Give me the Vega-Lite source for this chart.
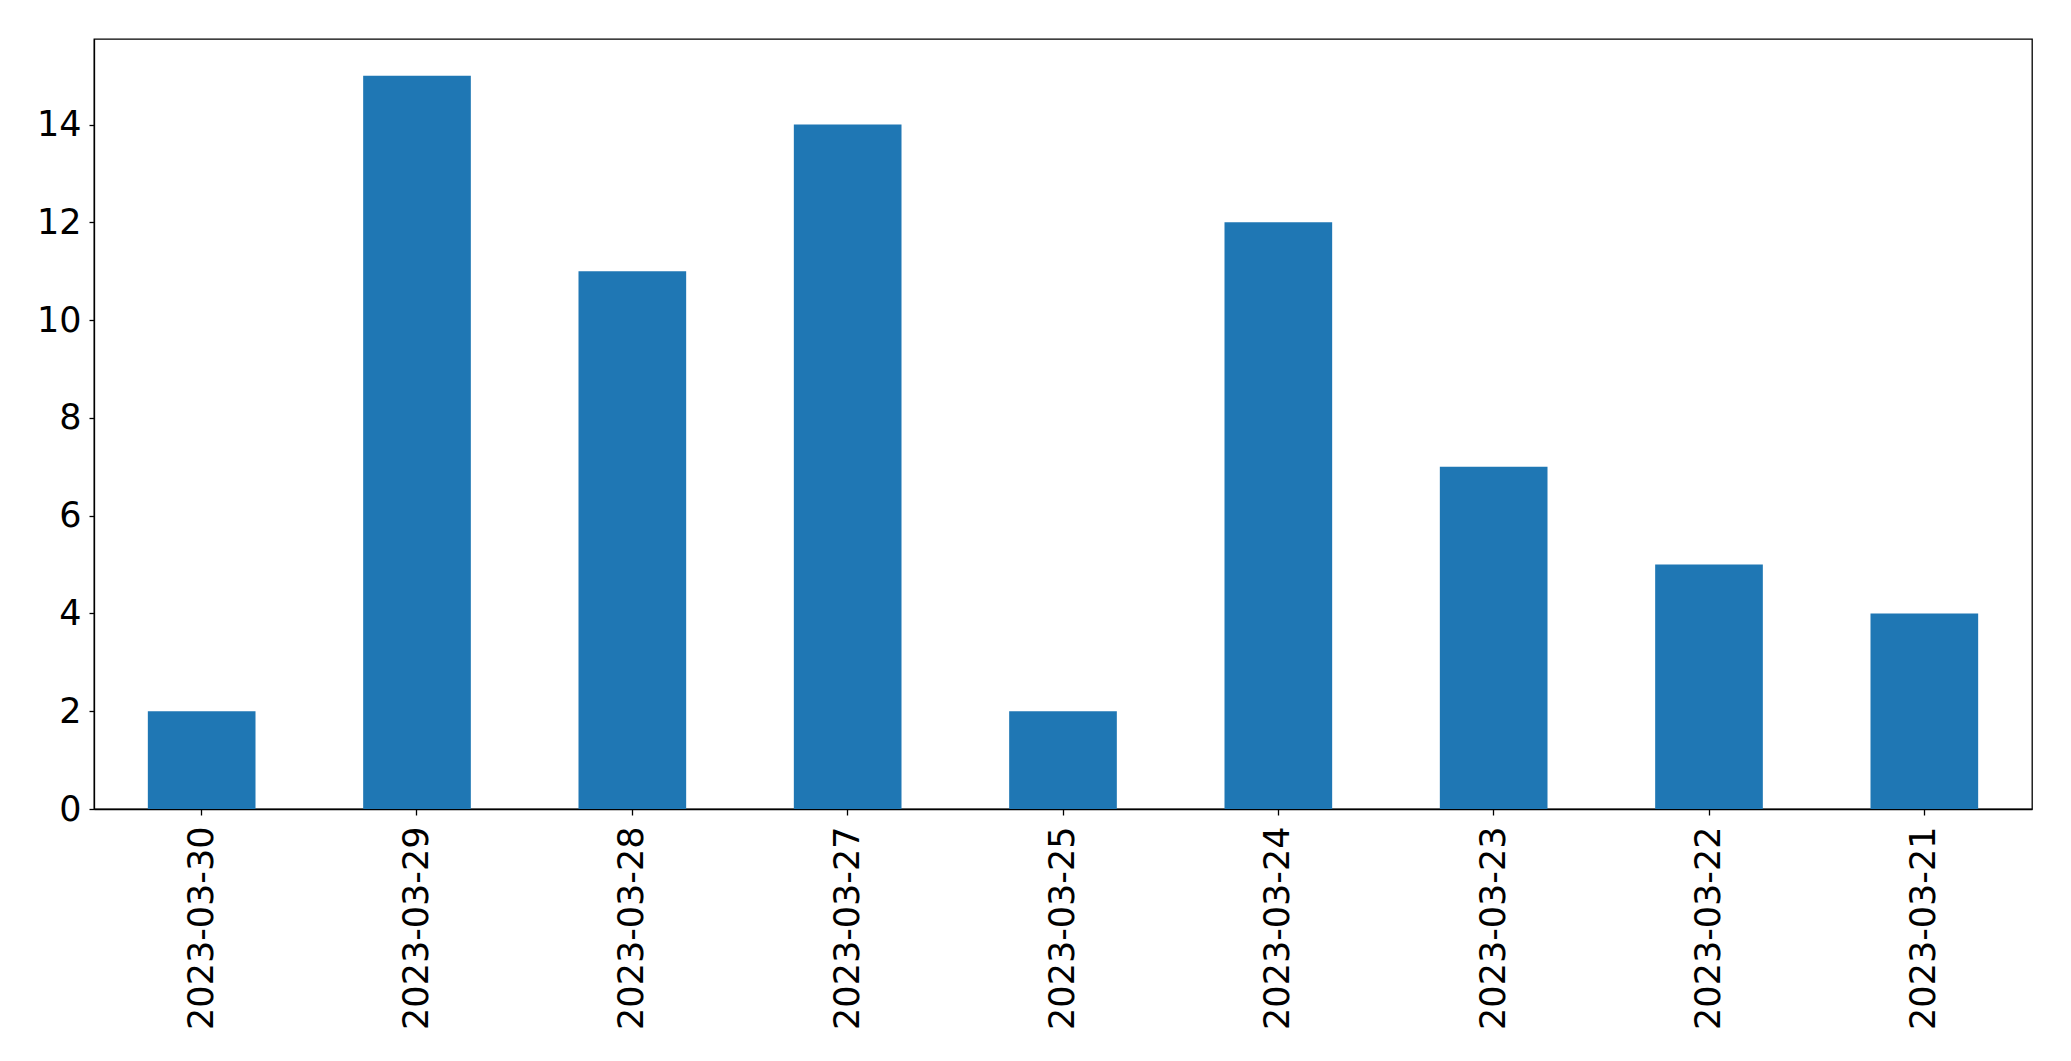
{
  "$schema": "https://vega.github.io/schema/vega-lite/v6.json",
  "width": 1938,
  "height": 770,
  "autosize": {"type": "none"},
  "padding": {"left": 94, "top": 39, "right": 39, "bottom": 252},
  "background": "white",
  "config": {
    "view": {"stroke": "black", "strokeWidth": 1.3},
    "axis": {
      "labelFont": "DejaVu Sans",
      "labelFontSize": 35,
      "labelColor": "black",
      "labelLimit": 0,
      "domainColor": "black",
      "tickColor": "black",
      "grid": false,
      "title": null,
      "domainWidth": 1.3,
      "tickWidth": 1.3
    }
  },
  "data": {
    "values": [
      {"date": "2023-03-30", "count": 2},
      {"date": "2023-03-29", "count": 15},
      {"date": "2023-03-28", "count": 11},
      {"date": "2023-03-27", "count": 14},
      {"date": "2023-03-25", "count": 2},
      {"date": "2023-03-24", "count": 12},
      {"date": "2023-03-23", "count": 7},
      {"date": "2023-03-22", "count": 5},
      {"date": "2023-03-21", "count": 4}
    ]
  },
  "mark": {"type": "bar", "color": "#1f77b4"},
  "encoding": {
    "x": {
      "field": "date",
      "type": "ordinal",
      "sort": null,
      "scale": {"paddingInner": 0.5, "paddingOuter": 0.25},
      "axis": {"labelAngle": -90, "tickSize": 6, "labelPadding": 11}
    },
    "y": {
      "field": "count",
      "type": "quantitative",
      "scale": {"domain": [0, 15.75], "nice": false, "zero": true},
      "axis": {"values": [0, 2, 4, 6, 8, 10, 12, 14], "tickSize": 5, "labelPadding": 8}
    }
  }
}
